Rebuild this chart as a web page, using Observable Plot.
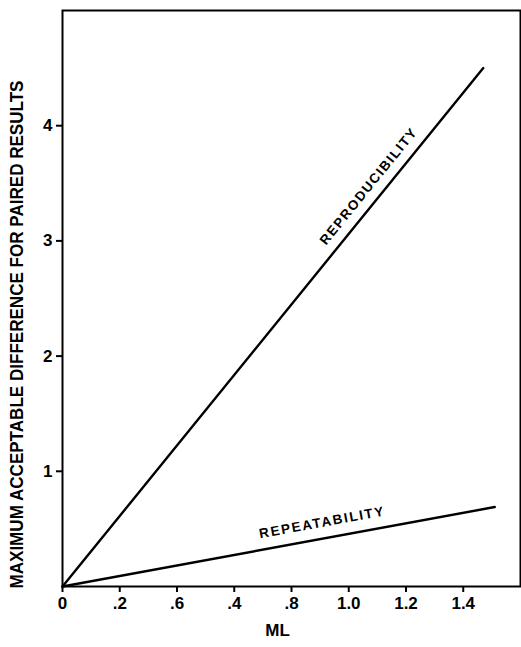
<!DOCTYPE html>
<html>
<head>
<meta charset="utf-8">
<script src="https://cdn.jsdelivr.net/npm/d3@7"></script>
<script src="https://cdn.jsdelivr.net/npm/@observablehq/plot@0.6"></script>
<style>
  html, body { margin: 0; padding: 0; background: #fff; }
  #chart svg { display: block; }
</style>
</head>
<body>
<div id="chart"></div>
<script>
// Tick positions and their printed labels (the original prints ".6" before ".4")
const xTicks = [0, 0.2, 0.4, 0.6, 0.8, 1.0, 1.2, 1.4];
const xTickLabels = ["0", ".2", ".6", ".4", ".8", "1.0", "1.2", "1.4"];
const yTicks = [1, 2, 3, 4];

// Line end points
const reproX = [0, 1.47];
const reproY = [0, 4.50];
const repeatX = [0, 1.51];
const repeatY = [0, 0.69];

// Labels
const xLabel = "ML";
const yLabel = "MAXIMUM ACCEPTABLE DIFFERENCE FOR PAIRED RESULTS";
const lineLabels = ["REPRODUCIBILITY", "REPEATABILITY"];
const lineLabelX = [1.068, 0.904];
const lineLabelY = [3.47, 0.554];
const lineLabelRotate = [-51, -10.4];
const lineLabelLength = [145, 126];

const repro = reproX.map((x, i) => ({x, y: reproY[i]}));
const repeat = repeatX.map((x, i) => ({x, y: repeatY[i]}));
const labelRows = lineLabels.map((t, i) => ({t, x: lineLabelX[i], y: lineLabelY[i], r: lineLabelRotate[i]}));

const font = "'Liberation Sans', Arial, sans-serif";

const chart = Plot.plot({
  width: 521,
  height: 647,
  marginLeft: 62,
  marginRight: 1,
  marginTop: 10,
  marginBottom: 61,
  x: {domain: [0, 1.6]},
  y: {domain: [0, 5]},
  style: {fontFamily: font, color: "#000", background: "#fff"},
  marks: [
    Plot.frame({stroke: "#000", strokeWidth: 2}),
    Plot.axisX(xTicks, {
      tickFormat: (d, i) => xTickLabels[i],
      tickSize: 6, tickPadding: 4, strokeWidth: 2,
      fontSize: 17, fontWeight: "bold", label: null
    }),
    Plot.axisY(yTicks, {
      tickFormat: d => String(d),
      tickSize: 6, tickPadding: 4, strokeWidth: 2,
      fontSize: 17, fontWeight: "bold", label: null
    }),
    Plot.line(repro, {x: "x", y: "y", stroke: "#000", strokeWidth: 2.4}),
    Plot.line(repeat, {x: "x", y: "y", stroke: "#000", strokeWidth: 2.4}),
    Plot.text(labelRows, {
      x: "x", y: "y", text: "t", rotate: "r",
      fontSize: 13.5, fontWeight: "bold", fill: "#000"
    }),
    Plot.text([xLabel], {
      frameAnchor: "bottom", dx: -14, dy: 49,
      fontSize: 17, fontWeight: "bold", fill: "#000"
    }),
    Plot.text([yLabel], {
      frameAnchor: "left", dx: -45, dy: 290, rotate: -90, textAnchor: "start",
      fontSize: 18, fontWeight: "bold", fill: "#000"
    })
  ]
});

const svg = d3.select(chart);
svg.selectAll("text").each(function() {
  const t = this.textContent;
  const k = lineLabels.indexOf(t);
  if (k >= 0) {
    d3.select(this).attr("textLength", lineLabelLength[k]).attr("lengthAdjust", "spacing");
  } else if (t === yLabel) {
    d3.select(this).attr("textLength", 508).attr("lengthAdjust", "spacingAndGlyphs");
  }
});

document.getElementById("chart").appendChild(chart);
</script>
</body>
</html>
